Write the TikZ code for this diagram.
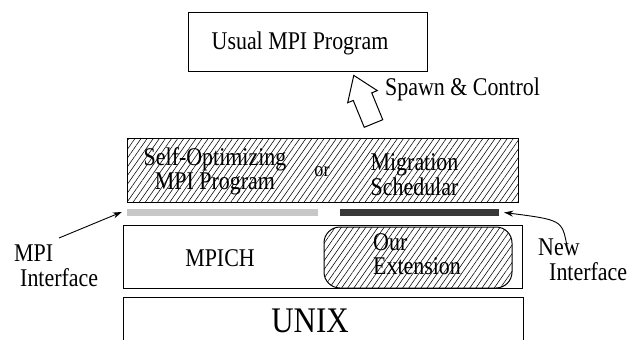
\documentclass[tikz,border=0pt]{standalone}
\usepackage{fontspec}
\setmainfont{Liberation Serif}
\newfontfamily\timesfont[FakeStretch=0.86]{Liberation Serif}
\usetikzlibrary{patterns.meta,arrows.meta}
\begin{document}
\begin{tikzpicture}[x=1pt,y=-1pt,
  font=\timesfont\fontsize{25.5}{24.5}\selectfont,
  box/.style={draw, line width=1pt, inner sep=0pt},
  hatch/.style={pattern={Lines[angle=55,distance=5pt,line width=0.55pt]}},
  lbl/.style={inner sep=0pt},
  thinarrow/.style={line width=0.9pt, -{Stealth[length=9pt,width=6pt]}},
  lightbar/.style={fill=black!22, inner sep=0pt, minimum height=7pt},
  darkbar/.style={fill=black!78, inner sep=0pt, minimum height=7pt}
]
\useasboundingbox (0,0) rectangle (640,340);

% top box
\node[box, minimum width=239pt, minimum height=59pt] (usual) at (307.5,41.5) {};
\node[lbl] (usualtxt) at (300,43) {Usual MPI Program};

% block arrow
\coordinate (spawnbase) at (373.5,123.5);
\begin{scope}[shift={(spawnbase)}, rotate=22.3]
  \draw[line width=1pt, fill=white, line join=miter]
    (-10,0) -- (-10,-29) -- (-16,-29) -- (0,-52) -- (16,-29) -- (10,-29) -- (10,0) -- cycle;
\end{scope}
\node[lbl, anchor=west] (spawn) at (385,89) {Spawn \& Control};

% hatched box
\node[box, hatch, minimum width=391pt, minimum height=64pt] (sched) at (322.5,170) {};
\node[lbl, align=center] (selfopt) at (215,171.5) {Self-Optimizing\\MPI Program};
\node[lbl, font=\timesfont\fontsize{21}{22}\selectfont] (ortxt) at (322,172) {or};
\node[lbl, align=center] (migr) at (414.5,174.5) {Migration\\Schedular};

% interface bars
\node[lightbar, minimum width=191pt] (mpiif) at (222.5,212) {};
\node[darkbar, minimum width=159pt] (newif) at (419.5,212.5) {};

% MPICH box
\node[box, minimum width=399.5pt, minimum height=63pt] (mpich) at (322.75,256.5) {};
\node[lbl] (mpichtxt) at (220,258) {MPICH};
\node[box, hatch, rounded corners=16pt, minimum width=188pt, minimum height=61pt] (ext) at (418,257.5) {};
\node[lbl, align=left, anchor=west] (exttxt) at (373,254) {Our\\Extension};

% UNIX box (open at the bottom)
\coordinate (unixsw) at (123,340);
\coordinate (unixne) at (523,297);
\draw[line width=1pt] (unixsw) |- (unixne) -- (unixne |- unixsw);
\node[lbl, font=\timesfont\fontsize{36}{38}\selectfont] (unixtxt) at (310,321) {UNIX};

% side labels
\node[lbl, align=left, anchor=north west] (mpilbl) at (14,245) {MPI\\\hspace*{6pt}Interface};
\node[lbl, align=left, anchor=north west] (newlbl) at (538,239) {New\\\hspace*{11pt}Interface};

\coordinate (mpistart) at (59,238);
\coordinate (newstart) at (567,246);
\draw[thinarrow] (mpistart) -- ([xshift=-5pt]mpiif.west);
\draw[thinarrow] (newstart) .. controls (562,220) .. ([xshift=5pt]newif.east);
\end{tikzpicture}
\end{document}
